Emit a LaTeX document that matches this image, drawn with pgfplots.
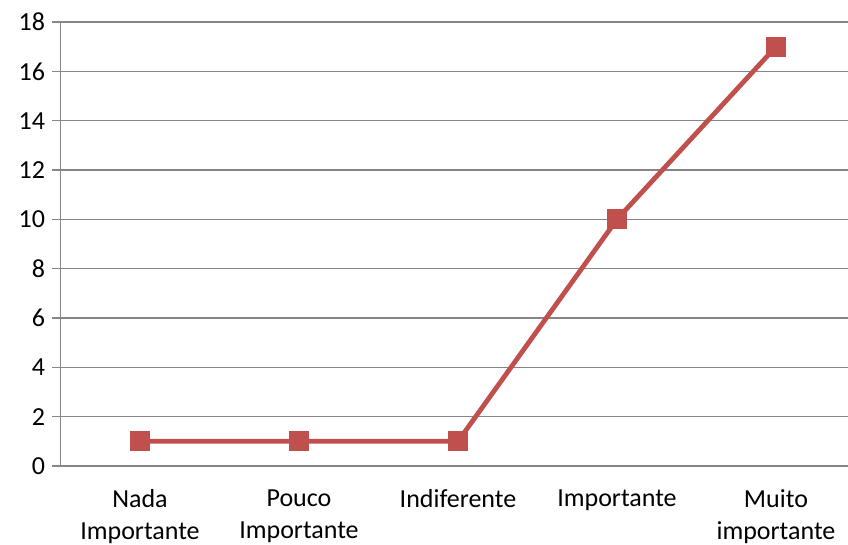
\documentclass[border=0pt]{standalone}
\usepackage{fontspec}
\setmainfont{Carlito}
\usepackage{pgfplots}
\pgfplotsset{compat=1.18}
\definecolor{exred}{RGB}{192,80,77}
\definecolor{axgray}{RGB}{134,134,134}
\begin{document}
\begin{tikzpicture}
\useasboundingbox (0,0) rectangle (848pt,545pt);
\begin{axis}[
  at={(60.5pt,79pt)}, anchor=south west,
  scale only axis, width=787.5pt, height=444pt,
  xmin=-0.5, xmax=4.453, ymin=0, ymax=18,
  axis x line*=bottom, axis y line*=left,
  axis line style={axgray, line width=1.2pt, -},
  ymajorgrids, grid style={axgray, line width=1.2pt},
  ytick={0,2,...,18},
  xtick={0,1,2,3,4},
  xticklabels={Nada\\Importante, Pouco\\Importante, Indiferente, Importante, Muito\\importante},
  minor xtick={-0.5,0.5,1.5,2.5,3.5},
  tick align=outside,
  major tick length=8pt, minor tick length=8pt,
  xtick style={draw=none},
  minor tick style={axgray, line width=1.2pt},
  ytick style={axgray, line width=1.2pt},
  tick label style={font=\fontsize{26}{32}\selectfont, text=black},
  xticklabel style={align=center, anchor=north, yshift=-12pt},
  yticklabel style={anchor=east, xshift=-4pt},
  /pgf/number format/assume math mode=true,
  clip=false,
]
\addplot[exred, line width=4.8pt, mark=square*, mark size=9.5pt, mark options={fill=exred, draw=exred, line width=0pt}]
  coordinates {(0,1) (1,1) (2,1) (3,10) (4,17)};
\end{axis}
\end{tikzpicture}
\end{document}
